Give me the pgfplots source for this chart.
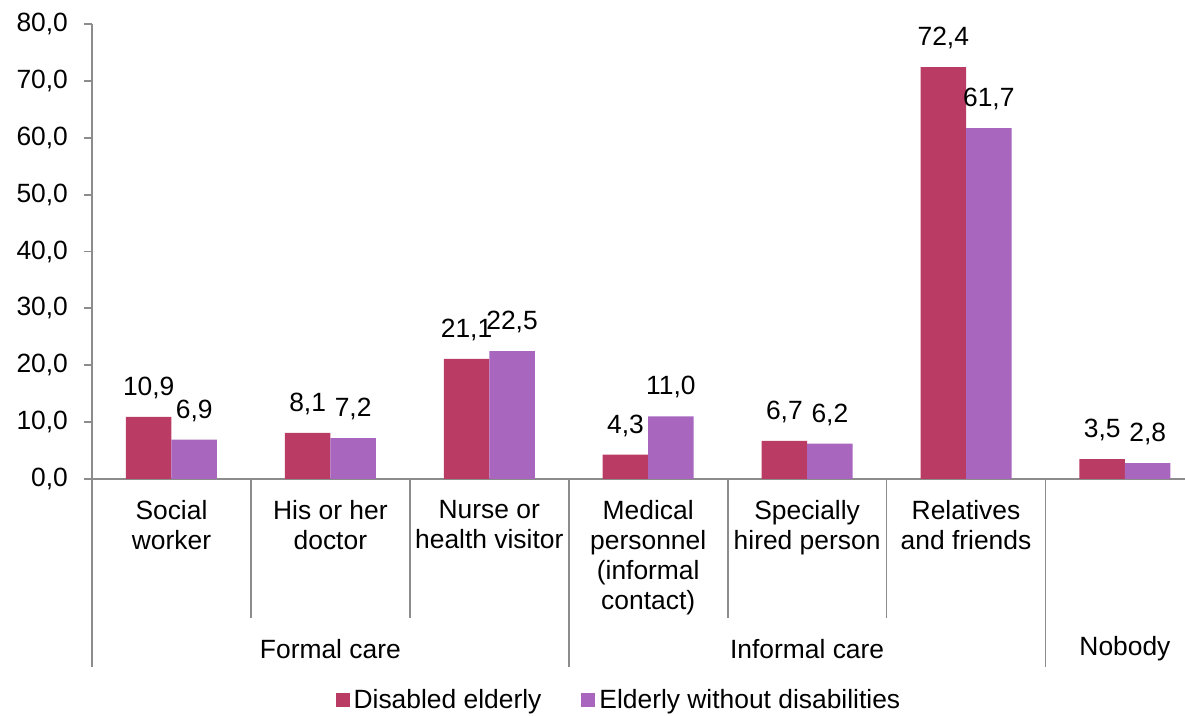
\documentclass[border=0pt]{standalone}
\usepackage{fontspec}
\setmainfont{Liberation Sans}
\usepackage{pgfplots}
\pgfplotsset{compat=1.18}
\usetikzlibrary{calc}
\definecolor{dis}{HTML}{BA3C64}
\definecolor{nodis}{HTML}{A966BF}
\definecolor{axgray}{HTML}{8C8C8C}
\newcommand{\ff}{\fontsize{13.2}{15}\selectfont}
\begin{document}
\begin{tikzpicture}
\begin{axis}[
  name=ax,
  scale only axis,
  width=546.5pt, height=227.5pt,
  xmin=-0.5, xmax=6.378,
  ymin=0, ymax=80,
  ybar=0pt, bar width=22.75pt,
  axis lines*=left,
  axis line style={axgray, line width=0.9pt},
  clip=false,
  font=\ff,
  xtick={0,1,2,3,4,5,6},
  xticklabels={Social\\worker, His or her\\doctor, Nurse or\\health visitor, Medical\\personnel\\(informal\\contact), Specially\\hired person, Relatives\\and friends, {}},
  x tick style={draw=none},
  xticklabel style={align=center, font=\ff, yshift=-3pt},
  ytick={0,10,...,80},
  y tick style={axgray, line width=0.9pt},
  tick align=outside,
  major tick length=4pt,
  yticklabel style={font=\ff, xshift=-4.5pt},
  yticklabel={\pgfmathprintnumber[fixed,fixed zerofill,precision=1,use comma,assume math mode=true]{\tick}},
  nodes near coords={\pgfmathprintnumber[fixed,fixed zerofill,precision=1,use comma,assume math mode=true]{\pgfplotspointmeta}},
  nodes near coords style={font=\ff, yshift=5.5pt, text=black},
  legend style={draw=none, at={(0.483,0)}, anchor=center, yshift=-110.5pt, font=\ff, legend columns=2, /tikz/every even column/.append style={column sep=18pt}},
  legend image code/.code={\fill[#1] (0pt,-3.5pt) rectangle (7pt,3.5pt);},
]
\addplot[fill=dis, draw=none] coordinates {(0,10.9) (1,8.1) (2,21.1) (3,4.3) (4,6.7) (5,72.4) (6,3.5)};
\addplot[fill=nodis, draw=none] coordinates {(0,6.9) (1,7.2) (2,22.5) (3,11.0) (4,6.2) (5,61.7) (6,2.8)};
\legend{Disabled elderly, Elderly without disabilities}
\pgfplotsinvokeforeach{0.5,1.5,3.5,4.5}{
  \draw[axgray, line width=0.9pt] (axis cs:#1,0) -- ++(0pt,-69.5pt);
}
\pgfplotsinvokeforeach{-0.5,2.5,5.5}{
  \draw[axgray, line width=0.9pt] (axis cs:#1,0) -- ++(0pt,-94pt);
}
\node[font=\ff] at (axis cs:1,0) [yshift=-85pt] {Formal care};
\node[font=\ff] at (axis cs:4,0) [yshift=-85pt] {Informal care};
\node[font=\ff] at (axis cs:6,0) [yshift=-85pt] {Nobody};
\node[rotate=90, font=\ff] at ($(rel axis cs:0,0.35)+(-51pt,0pt)$) {\%};
\end{axis}
\pgfresetboundingbox
\path ($(ax.south west)+(-46pt,-118.5pt)$) rectangle ($(ax.north east)+(0pt,12pt)$);
\end{tikzpicture}
\end{document}
